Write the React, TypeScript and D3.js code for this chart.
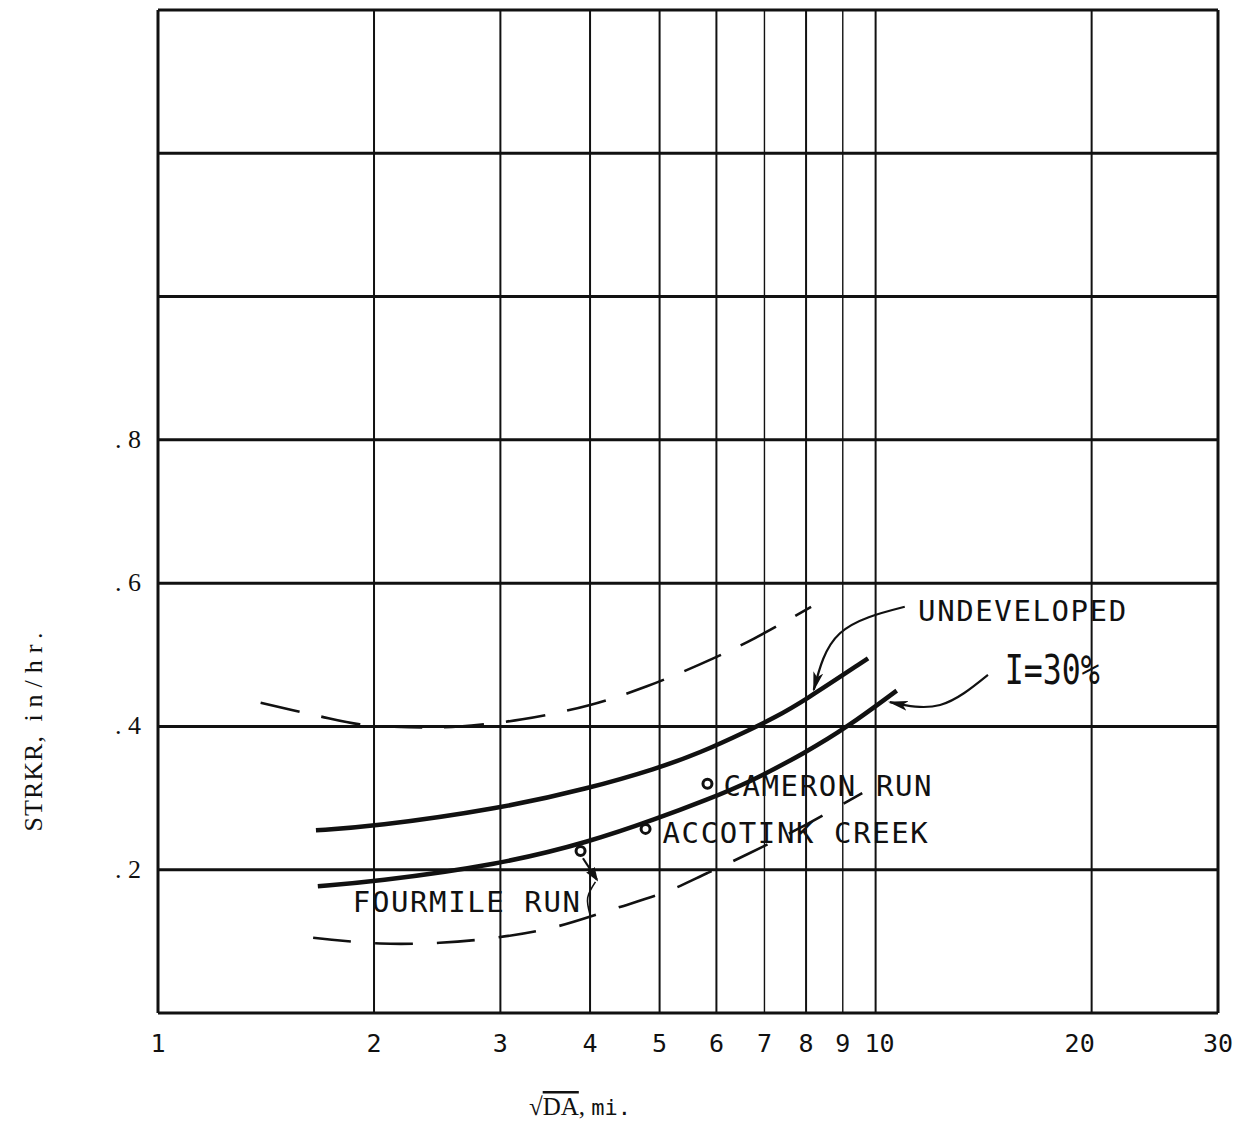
import React from "react";
import * as d3 from "d3";

// grid + ticks
const xGrid = [1, 2, 3, 4, 5, 6, 7, 8, 9, 10, 20, 30];
const xMinor = [7, 9];
const yGrid = [0, 0.2, 0.4, 0.6, 0.8, 1.0, 1.2, 1.4];
const yLabels = [0.2, 0.4, 0.6, 0.8];

// solid curve, undeveloped
const undevX = [1.66, 1.99, 2.99, 4.0, 4.95, 5.69, 6.67, 7.25, 7.9, 9.76];
const undevY = [0.255, 0.26, 0.285, 0.314, 0.341, 0.363, 0.395, 0.413, 0.434, 0.495];

// solid curve, I=30%
const i30X = [1.67, 1.99, 2.99, 4.0, 4.95, 5.83, 6.67, 8.0, 9.1, 10.7];
const i30Y = [0.177, 0.183, 0.207, 0.239, 0.271, 0.298, 0.322, 0.364, 0.398, 0.45];

// dashed envelope, upper
const upperX = [1.39, 1.665, 1.91, 2.24, 2.63, 3.22, 4.0, 4.8, 5.94, 6.78, 8.13];
const upperY = [0.433, 0.415, 0.403, 0.399, 0.4, 0.41, 0.43, 0.456, 0.495, 0.523, 0.567];

// dashed envelope, lower
const lowerX = [1.645, 2.04, 2.47, 2.95, 3.54, 4.37, 5.13, 5.82, 6.67, 7.83, 9.58];
const lowerY = [0.105, 0.097, 0.098, 0.105, 0.119, 0.147, 0.17, 0.195, 0.223, 0.258, 0.307];

// observed basins
const siteNames = ["CAMERON RUN", "ACCOTINK CREEK", "FOURMILE RUN"];
const siteX = [5.83, 4.78, 3.88];
const siteY = [0.32, 0.257, 0.226];

const W = 1247;
const H = 1128;

const x = d3.scaleLog().domain([1, 30]).range([158, 1218]);
const y = d3.scaleLinear().domain([0, 1.4]).range([1013, 10]);

const zip = (xs: number[], ys: number[]) => xs.map((v, i) => [v, ys[i]] as [number, number]);

const line = d3
  .line<[number, number]>()
  .x(d => x(d[0]))
  .y(d => y(d[1]))
  .curve(d3.curveCatmullRom.alpha(0.5));

const smooth = d3
  .line<[number, number]>()
  .x(d => x(d[0]))
  .y(d => y(d[1]))
  .curve(d3.curveBasis);

const arrowLine = d3
  .line<[number, number]>()
  .x(d => x(d[0]))
  .y(d => y(d[1]))
  .curve(d3.curveNatural);

// annotation arrows (data coords)
const undevArrow: [number, number][] = [[10.98, 0.567], [8.92, 0.53], [8.2, 0.451]];
const i30Arrow: [number, number][] = [[14.34, 0.472], [12.3, 0.43], [10.47, 0.434]];
const fourmileLead: [number, number][] = [[3.91, 0.216], [4.09, 0.186]];
const fourmileTail: [number, number][] = [[4.07, 0.183], [3.97, 0.161], [4.0, 0.137]];

const letter = "'DejaVu Sans Mono', monospace";
const serif = "'Liberation Serif', 'Times New Roman', serif";

export default function App() {
  const ink = "#111";
  const [cam, acc, four] = siteNames;
  return (
    <svg
      width={W}
      height={H}
      viewBox={`0 0 ${W} ${H}`}
      style={{ position: "absolute", left: 0, top: 0, background: "#fff" }}
    >
      <defs>
        <marker id="head" viewBox="0 0 20 10" refX="18" refY="5" markerWidth="20" markerHeight="10"
          markerUnits="userSpaceOnUse" orient="auto">
          <path d="M0,0 L20,5 L0,10 L5,5 Z" fill={ink} />
        </marker>
        <marker id="headSmall" viewBox="0 0 14 10" refX="12" refY="5" markerWidth="14" markerHeight="10"
          markerUnits="userSpaceOnUse" orient="auto">
          <path d="M0,0 L14,5 L0,10 Z" fill={ink} />
        </marker>
      </defs>

      {/* horizontal grid */}
      {yGrid.map(v => (
        <line key={"h" + v} x1={x(1)} x2={x(30)} y1={y(v)} y2={y(v)} stroke={ink} strokeWidth={3} />
      ))}
      {/* vertical grid */}
      {xGrid.map(t => (
        <line key={"v" + t} x1={x(t)} x2={x(t)} y1={y(0)} y2={y(1.4)} stroke={ink}
          strokeWidth={t === 1 || t === 30 ? 3 : xMinor.includes(t) ? 1.4 : 2} />
      ))}

      {/* x tick labels */}
      {xGrid.map(t => (
        <text key={"xt" + t} x={x(t) + (t === 20 ? -12 : t === 10 ? 4 : 0)} y={1052} textAnchor="middle"
          fontFamily={letter} fontSize={25} fill={ink}>
          {t}
        </text>
      ))}
      {/* y tick labels */}
      {yLabels.map(v => (
        <text key={"yt" + v} x={141} y={y(v) + 8} textAnchor="end" fontFamily={serif} fontSize={26} fill={ink}>
          {". " + String(v).replace("0.", "")}
        </text>
      ))}

      {/* axis titles */}
      <text x={580} y={1115} textAnchor="middle" fontFamily={serif} fontSize={25} fill={ink}>
        <tspan>√</tspan>
        <tspan style={{ textDecoration: "overline" }}>DA</tspan>
        <tspan>, </tspan>
        <tspan fontFamily={letter} fontSize={22}>mi.</tspan>
      </text>
      <text transform={`translate(42,${y(0.4) + 2}) rotate(-90)`} textAnchor="middle" fontFamily={serif}
        fontSize={26} fill={ink}>
        <tspan letterSpacing={1}>STRKR,</tspan>
        <tspan letterSpacing={7}>{" in/hr."}</tspan>
      </text>

      {/* envelopes */}
      <path d={line(zip(upperX, upperY)) || ""} fill="none" stroke={ink} strokeWidth={2.6}
        strokeDasharray="40 22" />
      <path d={line(zip(lowerX, lowerY)) || ""} fill="none" stroke={ink} strokeWidth={2.6}
        strokeDasharray="38 24" />

      {/* relations */}
      <path d={smooth(zip(undevX, undevY)) || ""} fill="none" stroke={ink} strokeWidth={4.5} />
      <path d={smooth(zip(i30X, i30Y)) || ""} fill="none" stroke={ink} strokeWidth={4.5} />

      {/* sites */}
      {siteX.map((sx, i) => (
        <circle key={"s" + i} cx={x(sx)} cy={y(siteY[i])} r={4.5} fill="#fff" stroke={ink} strokeWidth={3} />
      ))}
      <text x={x(siteX[0]) + 16} y={y(siteY[0]) + 12} fontFamily={letter} fontSize={29} letterSpacing={1.6} fill={ink}>
        {cam}
      </text>
      <text x={x(siteX[1]) + 17} y={y(siteY[1]) + 14} fontFamily={letter} fontSize={29} letterSpacing={1.6} fill={ink}>
        {acc}
      </text>
      <text x={x(siteX[2]) + 1} y={y(siteY[2]) + 61} textAnchor="end" fontFamily={letter} fontSize={29}
        letterSpacing={1.6} fill={ink}>
        {four}
      </text>
      <path d={arrowLine(fourmileLead) || ""} fill="none" stroke={ink} strokeWidth={2.2} markerEnd="url(#headSmall)" />
      <path d={arrowLine(fourmileTail) || ""} fill="none" stroke={ink} strokeWidth={1.6} />

      {/* curve callouts */}
      <path d={arrowLine(undevArrow) || ""} fill="none" stroke={ink} strokeWidth={2.2} markerEnd="url(#head)" />
      <text x={x(11.46)} y={y(0.547)} fontFamily={letter} fontSize={29} letterSpacing={1.6} fill={ink}>
        UNDEVELOPED
      </text>
      <path d={arrowLine(i30Arrow) || ""} fill="none" stroke={ink} strokeWidth={2.2} markerEnd="url(#head)" />
      <text x={x(15.14)} y={y(0.459)} fontFamily={letter} fontSize={40} fill={ink} textLength={95}
        lengthAdjust="spacingAndGlyphs">
        I=30%
      </text>
    </svg>
  );
}
